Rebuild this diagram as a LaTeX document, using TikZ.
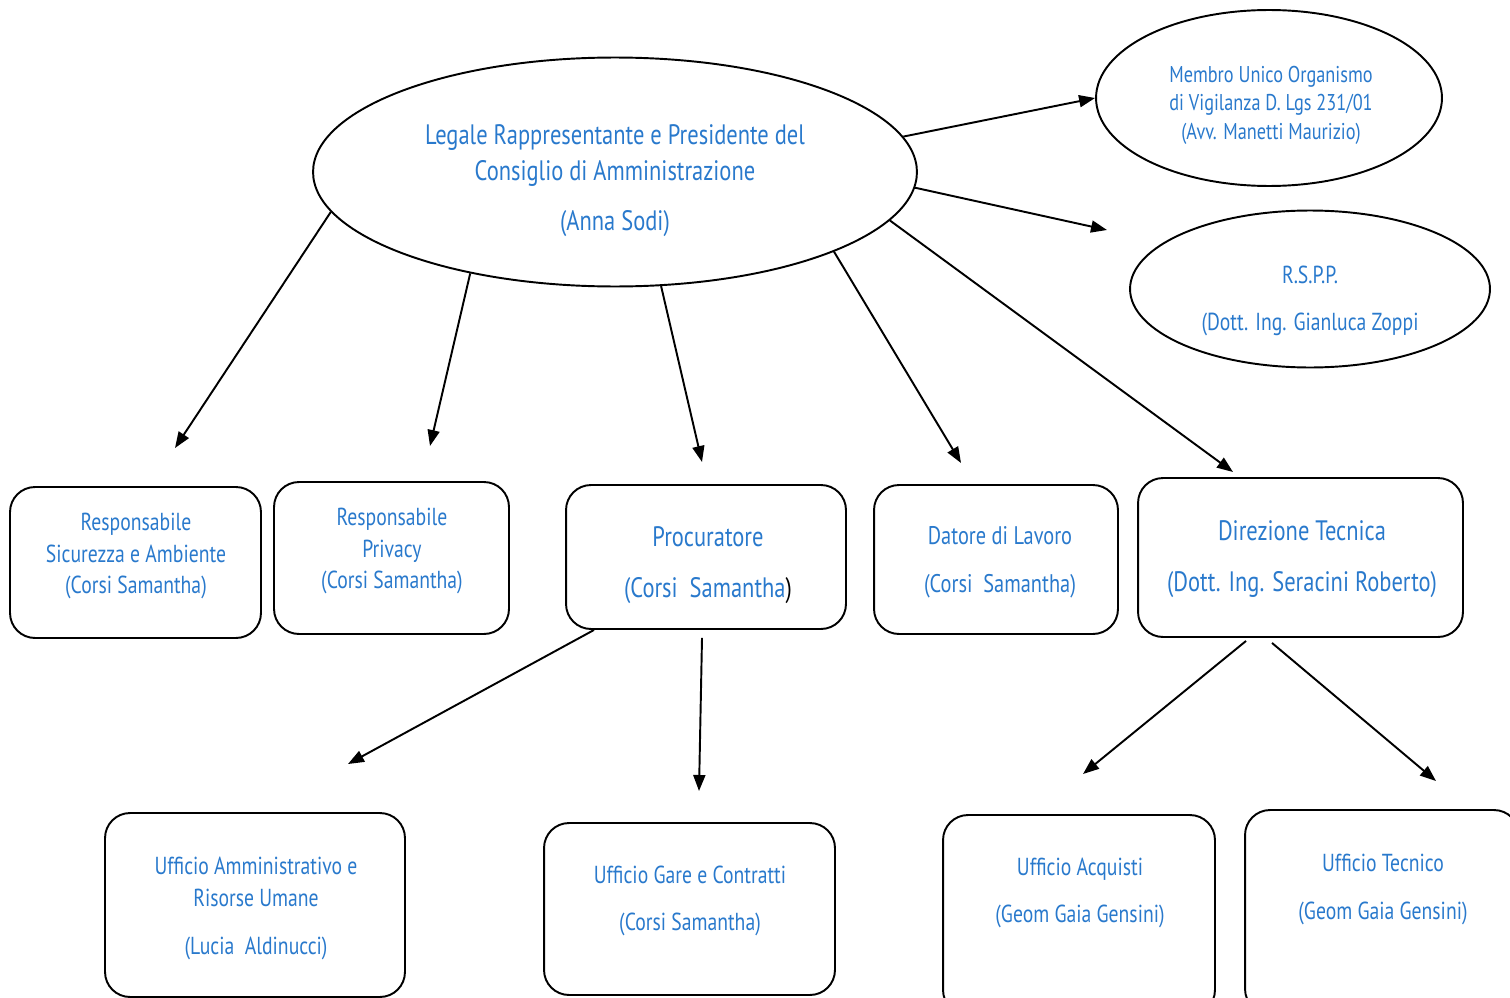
\documentclass[tikz,border=0pt]{standalone}
\usepackage{fontspec}
\setmainfont{PT Sans}[FakeStretch=0.8]
\usetikzlibrary{shapes.geometric,arrows.meta}

\definecolor{azzurro}{RGB}{41,121,204}

\tikzset{
  ovale/.style={draw, line width=1.1pt, ellipse, inner sep=0pt},
  riquadro/.style={draw, line width=1.1pt, rounded corners=0.5cm, inner sep=0pt},
  testo/.style={text=azzurro, align=center, font=\fontsize{14}{18.2}\selectfont},
  freccia/.style={-{Triangle[length=0.32cm,width=0.24cm]}, line width=1.1pt},
}

\begin{document}
\begin{tikzpicture}[x=0.02cm, y=-0.02cm]
\useasboundingbox (0,0) rectangle (1510,997);

% ellissi in alto
\node[ovale, minimum width=12.08cm, minimum height=4.58cm] (pres) at (615,172) {};
\node[testo, font=\fontsize{16}{20.5}\selectfont] (presT) at (615,181)
  {Legale Rappresentante e Presidente del\\Consiglio di Amministrazione\\[0.28cm](Anna Sodi)};

\node[ovale, minimum width=6.92cm, minimum height=3.52cm] (odv) at (1269,98) {};
\node[testo, font=\fontsize{13}{16.2}\selectfont] (odvT) at (1271,105)
  {Membro Unico Organismo\\di Vigilanza D. Lgs 231/01\\(Avv. Manetti Maurizio)};

\node[ovale, minimum width=7.2cm, minimum height=3.14cm] (rspp) at (1310,289) {};
\node[testo] (rsppT) at (1310,301) {R.S.P.P.\\[0.3cm](Dott. Ing. Gianluca Zoppi};

% primo livello
\node[riquadro, minimum width=5.02cm, minimum height=3.02cm] (sic) at (135.5,562.5) {};
\node[testo] (sicT) at (136,556) {Responsabile\\Sicurezza e Ambiente\\(Corsi Samantha)};

\node[riquadro, minimum width=4.7cm, minimum height=3.04cm] (pri) at (391.5,558) {};
\node[testo] (priT) at (392,551) {Responsabile\\Privacy\\(Corsi Samantha)};

\node[riquadro, minimum width=5.6cm, minimum height=2.88cm] (pro) at (706,557) {};
\node[testo, font=\fontsize{16}{20.5}\selectfont] (proT) at (708,565) {Procuratore\\[0.3cm](Corsi\ \ Samantha{\color{black})}};

\node[riquadro, minimum width=4.88cm, minimum height=2.98cm] (dat) at (996,559.5) {};
\node[testo, font=\fontsize{14.5}{18.6}\selectfont] (datT) at (1000,562) {Datore di Lavoro\\[0.3cm](Corsi\ \ Samantha)};

\node[riquadro, minimum width=6.5cm, minimum height=3.18cm] (dir) at (1300.5,557.5) {};
\node[testo, font=\fontsize{16}{20.5}\selectfont] (dirT) at (1302,559) {Direzione Tecnica\\[0.3cm](Dott. Ing. Seracini Roberto)};

% secondo livello
\node[riquadro, minimum width=6.0cm, minimum height=3.68cm] (amm) at (255,905) {};
\node[testo] (ammT) at (256,908) {Ufficio Amministrativo e\\Risorse Umane\\[0.32cm](Lucia\ \ Aldinucci)};

\node[riquadro, minimum width=5.82cm, minimum height=3.44cm] (gar) at (689.5,909) {};
\node[testo] (garT) at (690,901) {Ufficio Gare e Contratti\\[0.3cm](Corsi Samantha)};

\node[riquadro, minimum width=5.44cm, minimum height=4.0cm] (acq) at (1079,915) {};
\node[testo] (acqT) at (1080,893) {Ufficio Acquisti\\[0.3cm](Geom Gaia Gensini)};

\node[riquadro, minimum width=5.48cm, minimum height=4.08cm] (tec) at (1382,912) {};
\node[testo] (tecT) at (1383,889) {Ufficio Tecnico\\[0.32cm](Geom Gaia Gensini)};

% punte libere delle frecce
\coordinate (p1) at (175,448);
\coordinate (p2) at (430,446);
\coordinate (p3) at (702,462);
\coordinate (p4) at (961,463);
\coordinate (p5) at (1233,472);
\coordinate (p7) at (1107,230);
\coordinate (p8) at (348,764);
\coordinate (p9) at (699,791);
\coordinate (p10) at (1083,774);
\coordinate (p11) at (1436,781);

\draw[freccia] (pres.188.4) -- (p1);
\draw[freccia] (pres.215) -- (p2);
\draw[freccia] (pres.292.9) -- (p3);
\draw[freccia] (pres.340.1) -- (p4);
\draw[freccia] (pres.350.5) -- (p5);
\draw[freccia] (pres.7.3) -- (odv.west);
\draw[freccia] (pres.357.2) -- (p7);

\draw[freccia] ([xshift=-2.24cm]pro.south) -- (p8);
\draw[freccia] ([xshift=-0.08cm,yshift=-0.16cm]pro.south) -- (p9);

\draw[freccia] ([xshift=-1.09cm,yshift=-0.06cm]dir.south) -- (p10);
\draw[freccia] ([xshift=-0.57cm,yshift=-0.1cm]dir.south) -- (p11);
\end{tikzpicture}
\end{document}
